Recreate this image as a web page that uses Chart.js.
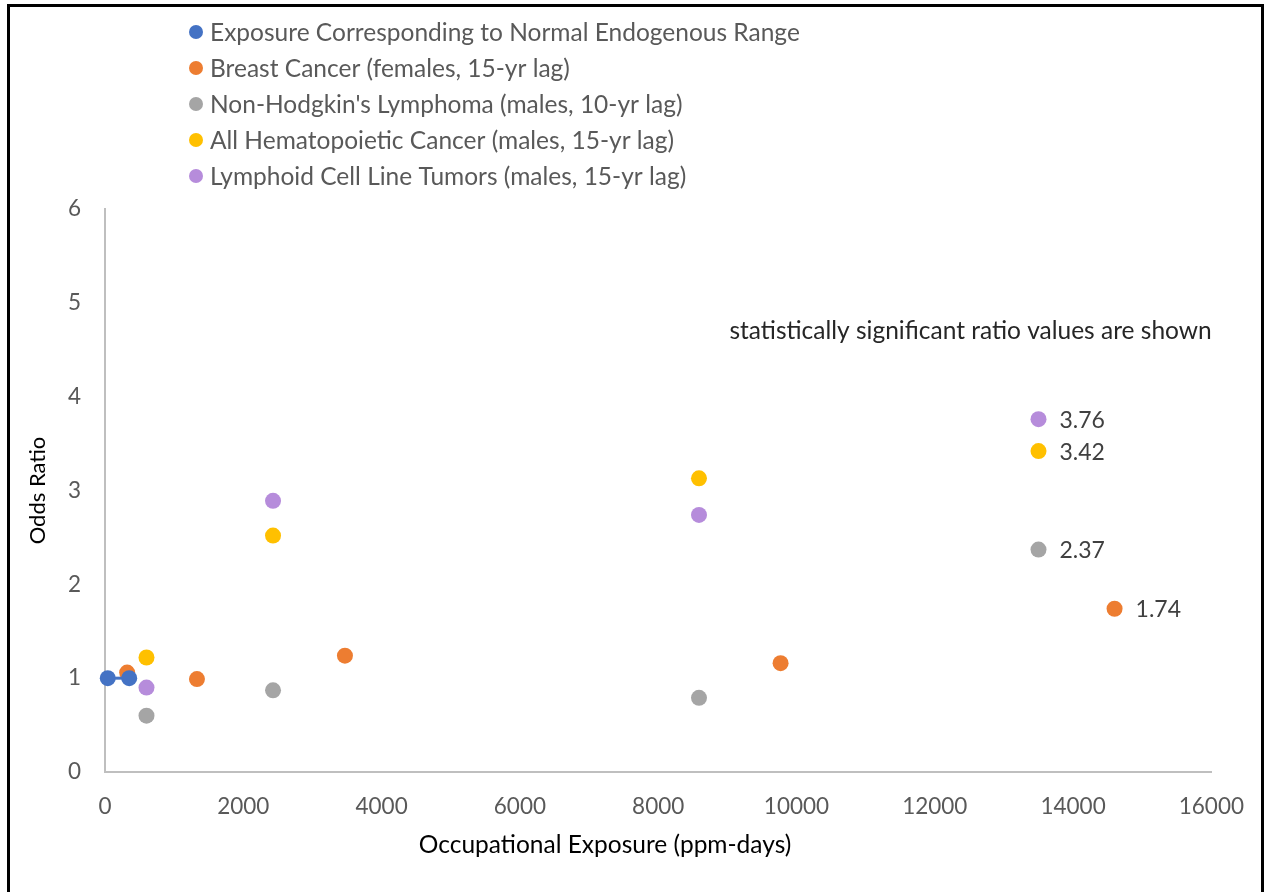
<!DOCTYPE html>
<html>
<head>
<meta charset="utf-8">
<script src="https://cdn.jsdelivr.net/npm/chart.js@4.4.1/dist/chart.umd.min.js"></script>
<style>
  html, body { margin: 0; padding: 0; background: #fff; }
</style>
</head>
<body>
<canvas id="myChart" width="1265" height="892"></canvas>
<script>
// data
var seriesNames = [
    'Exposure Corresponding to Normal Endogenous Range',
    'Breast Cancer (females, 15-yr lag)',
    "Non-Hodgkin's Lymphoma (males, 10-yr lag)",
    'All Hematopoietic Cancer (males, 15-yr lag)',
    'Lymphoid Cell Line Tumors (males, 15-yr lag)'
];
var endoX = [40, 350];
var endoY = [1, 1];
var breastX = [320, 1330, 3470, 9770, 14600];
var breastY = [1.06, 0.99, 1.24, 1.16, 1.74];
var maleX = [600, 2430, 8590, 13500];
var nhlY = [0.6, 0.87, 0.79, 2.37];
var hemaY = [1.22, 2.52, 3.13, 3.42];
var lymphY = [0.9, 2.89, 2.74, 3.76];
// index of the statistically significant point in each series (-1 = none)
var significantIdx = [-1, 4, 3, 3, 3];
var xTicks = [0, 2000, 4000, 6000, 8000, 10000, 12000, 14000, 16000];
var yTicks = [0, 1, 2, 3, 4, 5, 6];
var colors = ['#4472C4', '#ED7D31', '#A5A5A5', '#FFC000', '#B68CDB'];

var FONT = 'Lato, "Open Sans", sans-serif';

function toPoints(xs, ys) {
    return ys.map(function (v, i) { return { x: xs[i], y: v }; });
}

var seriesData = [
    toPoints(endoX, endoY),
    toPoints(breastX, breastY),
    toPoints(maleX, nhlY),
    toPoints(maleX, hemaY),
    toPoints(maleX, lymphY)
];

var extras = {
    id: 'extras',
    afterDraw: function (chart) {
        var ctx = chart.ctx;
        var xs = chart.scales.x, ys = chart.scales.y;
        ctx.save();

        // legend, one item per row
        ctx.font = '24.5px ' + FONT;
        ctx.textBaseline = 'middle';
        ctx.textAlign = 'left';
        seriesNames.forEach(function (name, i) {
            var cy = 32 + i * 36;
            ctx.fillStyle = colors[i];
            ctx.beginPath();
            ctx.arc(196, cy, 7, 0, Math.PI * 2);
            ctx.fill();
            ctx.fillStyle = '#595959';
            ctx.fillText(name, 210, cy + 1);
        });

        // value labels for significant points
        ctx.font = '23px ' + FONT;
        ctx.fillStyle = '#404040';
        significantIdx.forEach(function (idx, i) {
            if (idx < 0) return;
            var pt = chart.getDatasetMeta(i).data[idx];
            var v = seriesData[i][idx].y;
            ctx.fillText(v.toFixed(2), pt.x + 21, pt.y + 1);
        });

        // note
        ctx.font = '24.5px ' + FONT;
        ctx.fillStyle = '#262626';
        ctx.fillText('statistically significant ratio values are shown', xs.getPixelForValue(9030), ys.getPixelForValue(4.7));

        // x axis title
        ctx.fillStyle = '#000';
        ctx.textAlign = 'center';
        ctx.fillText('Occupational Exposure (ppm-days)', 605, 845);

        // frame
        ctx.strokeStyle = '#000';
        ctx.lineWidth = 3;
        ctx.strokeRect(8.5, 5.5, 1254, 1000);
        ctx.restore();
    }
};

var ctx = document.getElementById('myChart').getContext('2d');
var myChart = new Chart(ctx, {
    type: 'scatter',
    data: {
        datasets: seriesData.map(function (pts, i) {
            return {
                label: seriesNames[i],
                data: pts,
                backgroundColor: colors[i],
                borderColor: colors[i],
                pointRadius: 8,
                pointHoverRadius: 8,
                pointBorderWidth: 0,
                showLine: i === 0,
                borderWidth: 3,
                clip: false
            };
        })
    },
    options: {
        responsive: false,
        animation: false,
        layout: {
            padding: { top: 209, right: 53, left: 0, bottom: 0 }
        },
        plugins: {
            legend: { display: false },
            tooltip: { enabled: false }
        },
        scales: {
            x: {
                type: 'linear',
                min: 0,
                max: 16000,
                afterBuildTicks: function (scale) {
                    scale.ticks = xTicks.map(function (v) { return { value: v }; });
                },
                afterFit: function (scale) { scale.height = 120; },
                grid: { display: false, drawTicks: false },
                border: { display: true, color: '#BFBFBF', width: 2 },
                ticks: {
                    padding: 21,
                    color: '#595959',
                    font: { family: FONT, size: 22.5 },
                    maxRotation: 0,
                    callback: function (v) { return String(v); }
                }
            },
            y: {
                min: 0,
                max: 6,
                afterBuildTicks: function (scale) {
                    scale.ticks = yTicks.map(function (v) { return { value: v }; });
                },
                afterFit: function (scale) { scale.width = 105; },
                grid: { display: false, drawTicks: false },
                border: { display: true, color: '#BFBFBF', width: 2 },
                ticks: {
                    padding: 24,
                    color: '#595959',
                    font: { family: FONT, size: 22.5 }
                },
                title: {
                    display: true,
                    text: 'Odds Ratio',
                    color: '#000',
                    font: { family: FONT, size: 22 },
                    padding: { top: 25, bottom: 0 }
                }
            }
        }
    },
    plugins: [extras]
});
</script>
</body>
</html>
